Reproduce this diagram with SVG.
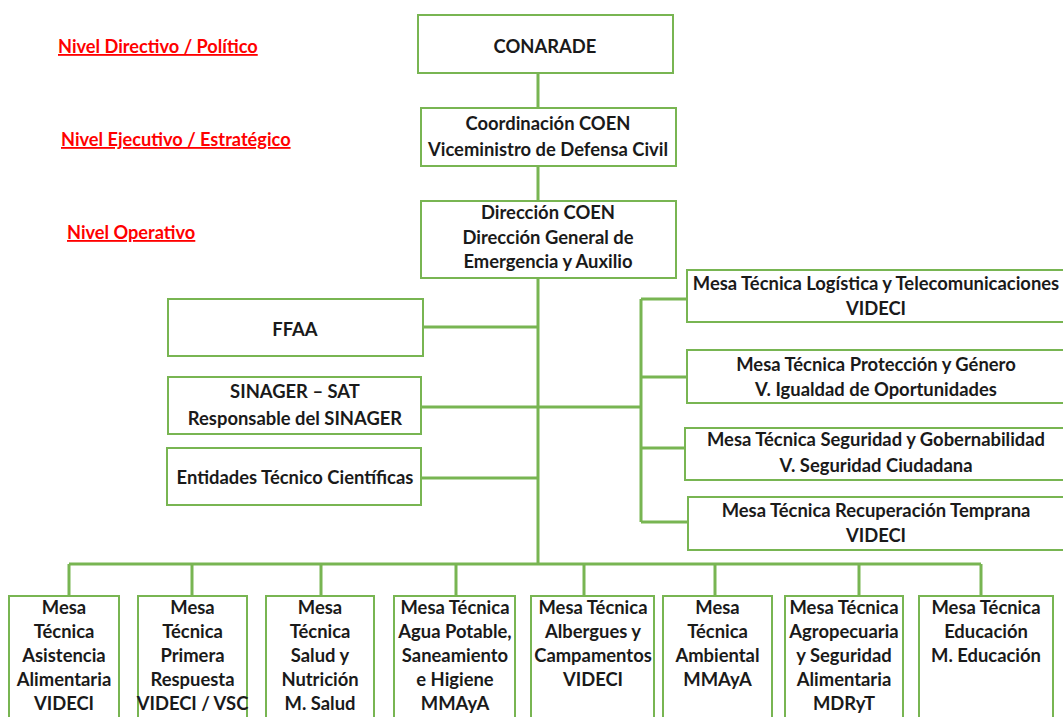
<svg xmlns="http://www.w3.org/2000/svg" width="1063" height="717" viewBox="0 0 1063 717">
<style>
.box{fill:#fff;stroke:#78b552;stroke-width:2}
.t{font-family:Lato,"Liberation Sans",sans-serif;font-weight:bold;font-size:18.4px;fill:#1a1a1a;text-anchor:middle}
.lvl{font-family:Lato,"Liberation Sans",sans-serif;font-weight:bold;font-size:18.2px;fill:#ff0000;text-decoration:underline}
.c{stroke:#78b552;stroke-width:3;fill:none}
</style>
<rect width="1063" height="717" fill="#fff"/>
<g id="levels">
<text class="lvl" x="58" y="53">Nivel Directivo / Político</text>
<text class="lvl" x="61" y="146">Nivel Ejecutivo / Estratégico</text>
<text class="lvl" x="67" y="239">Nivel Operativo</text>
</g>
<g id="connectors">
<path class="c" d="M538 73V564"/>
<path class="c" d="M423 327H538M421 407H641M421 478H538"/>
<path class="c" d="M641 299V522M641 299H687M641 377H687M641 448H687M641 522H687"/>
<path class="c" d="M69 564H981M69 564V596M192 564V596M321 564V596M456 564V596M584 564V596M715 564V596M859 564V596M981 564V596"/>
</g>
<g id="conarade"><rect class="box" x="418" y="15" width="255" height="58"/><text class="t" x="545" y="53">CONARADE</text></g>
<g id="coordinacion"><rect class="box" x="421" y="108" width="255" height="58"/><text class="t" x="548" y="130">Coordinación COEN</text><text class="t" x="548" y="156">Viceministro de Defensa Civil</text></g>
<g id="direccion"><rect class="box" x="421" y="201" width="255" height="77"/><text class="t" x="548" y="219">Dirección COEN</text><text class="t" x="548" y="244">Dirección General de</text><text class="t" x="548" y="268">Emergencia y Auxilio</text></g>
<g id="ffaa"><rect class="box" x="168" y="299" width="255" height="57"/><text class="t" x="295" y="336">FFAA</text></g>
<g id="sinager"><rect class="box" x="168" y="377" width="253" height="57"/><text class="t" x="295" y="398">SINAGER – SAT</text><text class="t" x="295" y="425">Responsable del SINAGER</text></g>
<g id="entidades"><rect class="box" x="167" y="448" width="254" height="57"/><text class="t" x="295" y="484">Entidades Técnico Científicas</text></g>
<g id="logistica"><rect class="box" x="687" y="270" width="390" height="52"/><text class="t" x="876" y="290">Mesa Técnica Logística y Telecomunicaciones</text><text class="t" x="876" y="315">VIDECI</text></g>
<g id="proteccion"><rect class="box" x="687" y="350" width="390" height="53"/><text class="t" x="876" y="371">Mesa Técnica Protección y Género</text><text class="t" x="876" y="396">V. Igualdad de Oportunidades</text></g>
<g id="seguridad"><rect class="box" x="685" y="428" width="392" height="52"/><text class="t" x="876" y="446">Mesa Técnica Seguridad y Gobernabilidad</text><text class="t" x="876" y="472">V. Seguridad Ciudadana</text></g>
<g id="recuperacion"><rect class="box" x="688" y="497" width="389" height="53"/><text class="t" x="876" y="517">Mesa Técnica Recuperación Temprana</text><text class="t" x="876" y="542">VIDECI</text></g>
<g id="asistencia"><rect class="box" x="9" y="596" width="110" height="130"/><text class="t" x="64" y="614">Mesa</text><text class="t" x="64" y="638">Técnica</text><text class="t" x="64" y="662">Asistencia</text><text class="t" x="64" y="686">Alimentaria</text><text class="t" x="64" y="710">VIDECI</text></g>
<g id="primera"><rect class="box" x="138" y="596" width="109" height="130"/><text class="t" x="192.5" y="614">Mesa</text><text class="t" x="192.5" y="638">Técnica</text><text class="t" x="192.5" y="662">Primera</text><text class="t" x="192.5" y="686">Respuesta</text><text class="t" x="192.5" y="710">VIDECI / VSC</text></g>
<g id="salud"><rect class="box" x="266" y="596" width="108" height="130"/><text class="t" x="320" y="614">Mesa</text><text class="t" x="320" y="638">Técnica</text><text class="t" x="320" y="662">Salud y</text><text class="t" x="320" y="686">Nutrición</text><text class="t" x="320" y="710">M. Salud</text></g>
<g id="agua"><rect class="box" x="394" y="596" width="121" height="130"/><text class="t" x="455" y="614">Mesa Técnica</text><text class="t" x="455" y="638">Agua Potable,</text><text class="t" x="455" y="662">Saneamiento</text><text class="t" x="455" y="686">e Higiene</text><text class="t" x="455" y="710">MMAyA</text></g>
<g id="albergues"><rect class="box" x="531" y="596" width="123" height="130"/><text class="t" x="593" y="614">Mesa Técnica</text><text class="t" x="593" y="638">Albergues y</text><text class="t" x="593" y="662">Campamentos</text><text class="t" x="593" y="686">VIDECI</text></g>
<g id="ambiental"><rect class="box" x="663" y="596" width="109" height="130"/><text class="t" x="717.5" y="614">Mesa</text><text class="t" x="717.5" y="638">Técnica</text><text class="t" x="717.5" y="662">Ambiental</text><text class="t" x="717.5" y="686">MMAyA</text></g>
<g id="agropecuaria"><rect class="box" x="785" y="596" width="118" height="130"/><text class="t" x="844" y="614">Mesa Técnica</text><text class="t" x="844" y="638">Agropecuaria</text><text class="t" x="844" y="662">y Seguridad</text><text class="t" x="844" y="686">Alimentaria</text><text class="t" x="844" y="710">MDRyT</text></g>
<g id="educacion"><rect class="box" x="919" y="596" width="134" height="130"/><text class="t" x="986" y="614">Mesa Técnica</text><text class="t" x="986" y="638">Educación</text><text class="t" x="986" y="662">M. Educación</text></g>
</svg>
